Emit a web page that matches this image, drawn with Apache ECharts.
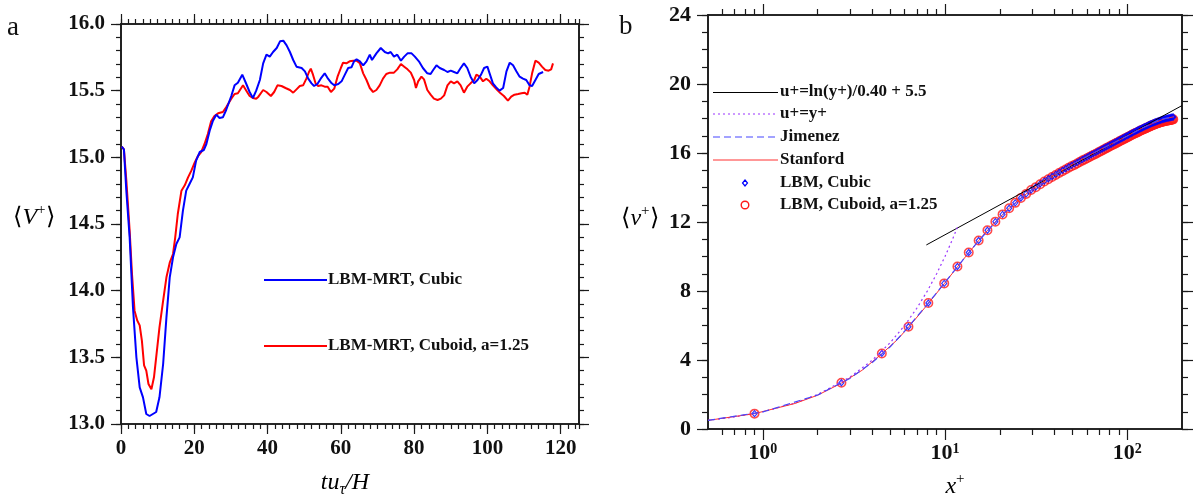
<!DOCTYPE html>
<html><head><meta charset="utf-8">
<script src="https://cdn.jsdelivr.net/npm/echarts@6/dist/echarts.min.js"></script>
<style>html,body{margin:0;padding:0;background:#fff}#c{width:1194px;height:500px}</style>
</head><body><div id="c"></div>
<script>
const FONT = '"Liberation Serif","Times New Roman",serif';

// ---- Panel a: time history of <V+> ----
const tBlue = [0.2,0.8,1.45,2.36,3.27,4.2,5.1,6.0,6.9,7.8,8.7,9.6,10.5,11.5,12.4,13.3,14.2,15.1,16.0,16.9,17.8,18.7,19.6,20.5,21.5,22.6,23.3,24.2,25.1,26.0,26.9,27.8,28.7,30.1,31.0,31.9,33.1,34.2,35.1,36.0,36.9,37.9,38.8,39.7,40.6,41.5,42.5,43.4,44.3,45.2,46.1,47.0,47.9,49.3,50.2,51.1,52.0,52.7,53.6,54.5,55.6,56.5,57.5,58.2,59.3,60.2,61.1,62.0,62.9,63.6,64.3,65.2,66.1,67.0,67.9,68.5,69.7,70.9,72.0,72.9,73.6,74.5,75.4,76.4,77.3,78.2,79.3,80.2,81.3,82.4,83.6,84.5,85.2,86.1,87.0,88.2,89.1,90.0,90.9,91.8,92.7,93.6,94.5,95.4,96.4,97.3,98.2,99.1,100.0,100.6,101.5,102.4,103.3,104.3,105.2,106.1,107.0,107.9,108.8,109.7,110.6,111.5,112.2,113.1,114.0,115.2];
const vBlue = [15.08,15.06,14.75,14.4,13.875,13.5,13.275,13.2,13.075,13.06,13.075,13.09,13.2,13.45,13.8,14.1,14.25,14.35,14.4,14.6,14.75,14.8,14.85,14.975,15.04,15.055,15.1,15.2,15.275,15.32,15.295,15.3,15.355,15.46,15.54,15.56,15.62,15.55,15.49,15.445,15.5,15.58,15.705,15.77,15.755,15.79,15.82,15.87,15.875,15.84,15.79,15.73,15.68,15.67,15.645,15.59,15.555,15.535,15.55,15.59,15.63,15.59,15.555,15.54,15.55,15.57,15.62,15.67,15.675,15.72,15.735,15.72,15.69,15.72,15.77,15.73,15.78,15.82,15.79,15.78,15.79,15.755,15.77,15.725,15.755,15.78,15.78,15.755,15.72,15.67,15.63,15.625,15.655,15.69,15.67,15.655,15.64,15.65,15.64,15.63,15.67,15.705,15.67,15.605,15.555,15.58,15.617,15.67,15.68,15.63,15.555,15.525,15.5,15.52,15.645,15.71,15.69,15.645,15.605,15.59,15.58,15.54,15.535,15.58,15.625,15.64];
const tRed = [0.2,0.8,1.45,2.36,3.0,3.7,4.45,5.1,5.7,6.3,6.9,7.5,8.3,9.0,9.6,10.5,11.5,12.4,13.3,14.2,14.8,15.5,16.5,17.4,18.3,19.2,20.1,21.0,21.9,22.8,23.7,24.6,25.5,26.5,27.8,28.7,30.1,31.0,31.9,33.3,34.2,35.1,36.0,36.9,37.5,38.8,39.7,40.9,41.8,42.7,43.8,44.9,46.1,47.0,47.9,48.8,49.7,50.6,51.3,51.8,52.4,53.1,53.8,54.7,55.6,56.4,57.3,58.2,59.1,60.0,60.6,61.5,62.4,63.4,64.3,65.2,66.1,67.0,67.9,68.8,69.7,70.6,71.5,72.4,73.4,74.5,75.4,76.4,77.3,78.2,79.1,80.0,80.5,81.1,82.0,82.7,83.6,84.5,85.4,86.4,87.3,88.2,89.1,90.0,90.9,91.8,92.7,93.6,94.5,95.4,96.4,97.0,97.9,98.8,99.7,100.6,101.5,102.7,103.6,104.5,105.6,106.5,107.4,108.4,109.3,110.2,110.9,111.5,112.2,113.1,114.0,114.9,115.8,116.7,117.4,117.9];
const vRed = [15.08,15.06,14.83,14.45,14.125,13.85,13.775,13.74,13.625,13.44,13.4,13.3,13.26,13.35,13.5,13.725,13.925,14.1,14.21,14.275,14.4,14.575,14.75,14.79,14.85,14.9,14.96,15.01,15.04,15.1,15.175,15.27,15.31,15.33,15.34,15.375,15.44,15.475,15.48,15.54,15.5,15.46,15.445,15.44,15.455,15.505,15.49,15.46,15.49,15.54,15.535,15.52,15.505,15.485,15.51,15.535,15.54,15.59,15.64,15.665,15.62,15.555,15.535,15.54,15.53,15.53,15.49,15.515,15.605,15.67,15.71,15.705,15.72,15.725,15.725,15.705,15.63,15.58,15.52,15.49,15.505,15.54,15.59,15.625,15.635,15.635,15.66,15.7,15.68,15.66,15.635,15.58,15.52,15.57,15.605,15.585,15.505,15.47,15.44,15.43,15.44,15.465,15.54,15.57,15.555,15.57,15.54,15.485,15.53,15.555,15.58,15.62,15.605,15.57,15.59,15.57,15.54,15.505,15.48,15.46,15.425,15.455,15.47,15.475,15.48,15.485,15.47,15.53,15.63,15.725,15.71,15.68,15.655,15.65,15.66,15.705];
const aXTicks = [0,20,40,60,80,100,120];

// ---- Panel b: mean velocity profile ----
const lbmX = [0.9,2.7,4.5,6.3,8.1,9.9,11.7,13.5,15.3,17.1,18.9,20.7,22.5,24.3,26.1,27.9,29.7,31.5,33.3,35.1,36.9,38.7,40.5,42.3,44.1,45.9,47.7,49.5,51.3,53.1,54.9,56.7,58.5,60.3,62.1,63.9,65.7,67.5,69.3,71.1,72.9,74.7,76.5,78.3,80.1,81.9,83.7,85.5,87.3,89.1,90.9,92.7,94.5,96.3,98.1,99.9,101.7,103.5,105.3,107.1,108.9,110.7,112.5,114.3,116.1,117.9,119.7,121.5,123.3,125.1,126.9,128.7,130.5,132.3,134.1,135.9,137.7,139.5,141.3,143.1,144.9,146.7,148.5,150.3,152.1,153.9,155.7,157.5,159.3,161.1,162.9,164.7,166.5,168.3,170.1,171.9,173.7,175.5,177.3,179.1];
const lbmCubicY = [0.89,2.68,4.38,5.93,7.30,8.44,9.42,10.23,10.93,11.52,12.02,12.44,12.80,13.11,13.39,13.63,13.85,14.03,14.21,14.37,14.51,14.64,14.76,14.88,14.99,15.09,15.19,15.28,15.37,15.45,15.54,15.62,15.70,15.77,15.84,15.91,15.98,16.04,16.11,16.17,16.23,16.29,16.35,16.40,16.46,16.51,16.57,16.62,16.67,16.72,16.77,16.82,16.86,16.91,16.96,17.00,17.04,17.09,17.13,17.17,17.21,17.25,17.29,17.32,17.36,17.40,17.43,17.46,17.50,17.53,17.56,17.59,17.62,17.65,17.68,17.70,17.73,17.75,17.78,17.80,17.82,17.84,17.86,17.88,17.90,17.92,17.94,17.95,17.97,17.98,17.99,18.01,18.02,18.03,18.04,18.05,18.06,18.07,18.08,18.09];
const lbmCuboidY = [0.89,2.68,4.38,5.93,7.30,8.44,9.42,10.23,10.93,11.52,12.02,12.44,12.80,13.11,13.39,13.63,13.85,14.02,14.19,14.35,14.48,14.61,14.72,14.84,14.94,15.04,15.14,15.23,15.31,15.39,15.48,15.56,15.63,15.70,15.77,15.84,15.90,15.96,16.03,16.09,16.15,16.21,16.27,16.32,16.38,16.43,16.48,16.53,16.58,16.63,16.68,16.73,16.77,16.82,16.86,16.90,16.94,16.99,17.03,17.07,17.11,17.15,17.18,17.21,17.25,17.29,17.32,17.35,17.38,17.41,17.44,17.47,17.50,17.53,17.56,17.58,17.61,17.63,17.66,17.68,17.70,17.72,17.74,17.76,17.78,17.79,17.81,17.82,17.84,17.85,17.86,17.87,17.88,17.89,17.90,17.91,17.92,17.93,17.94,17.95];
const stanX = [0.5,0.9,1.5,2,2.7,3.5,4.5,5.5,6.3,7.2,8.1,9.9,11.7,13.5,15.3,17.1,18.9,22.5,26.1,29.7,35,40,50,60,70,80,90,100,120,140,160,180];
const stanY = [0.5,0.89,1.48,1.96,2.66,3.40,4.36,5.20,5.90,6.62,7.28,8.42,9.40,10.22,10.92,11.51,12.01,12.79,13.38,13.85,14.36,14.74,15.34,15.79,16.16,16.47,16.74,16.99,17.43,17.74,17.98,18.10];
const jimX = [0.5,1,2,3,4,5,6,8,10,12,15,20,25,30,40,50,60,80,100,120,150,180];
const jimY = [0.5,0.99,1.97,2.93,3.87,4.76,5.67,7.23,8.50,9.55,10.80,12.28,13.22,13.88,14.76,15.34,15.79,16.47,16.99,17.43,17.93,18.10];
const linX = [0.5,0.7,1,1.5,2,3,4,5,6,7,8,9,10,11,11.8];
const linY = [0.5,0.7,1,1.5,2,3,4,5,6,7,8,9,10,11,11.8];
const logLawX = [7.9,200];
const logLawY = [10.67,18.75];
const bXMajor = [1,10,100];
const bXMinor = [0.6,0.7,0.8,0.9,2,3,4,5,6,7,8,9,20,30,40,50,60,70,80,90];

const zip = (xs, ys) => xs.map((x, i) => [x, ys[i]]);
const INK = '#1a1a1a';
const lineCfg = {show: true, onZero: false, lineStyle: {color: INK, width: 1.6}};
const tickCfg = (len, extra) => Object.assign({show: true, inside: false, length: len, lineStyle: {color: INK, width: 1.2}}, extra || {});
const labelCfg = (extra) => Object.assign({show: true, color: '#111', fontFamily: FONT, fontWeight: 'bold', fontSize: 21}, extra || {});

function ax(gridIndex, position, scale, tick, label) {
  return Object.assign({
    gridIndex, position,
    axisLine: lineCfg, axisTick: tick,
    axisLabel: label || {show: false},
    splitLine: {show: false}
  }, scale);
}

const aX = {type: 'value', min: 0, max: 125};
const aY = {type: 'value', min: 13, max: 16};
const bX = {type: 'log', logBase: 10, min: 0.5, max: 200};
const bY = {type: 'value', min: 0, max: 24};

const xAxis = [
  ax(0, 'bottom', Object.assign({interval: 20}, aX), tickCfg(10, {customValues: aXTicks}), labelCfg({margin: 14, customValues: aXTicks})),
  ax(0, 'top', Object.assign({interval: 20}, aX), tickCfg(10, {customValues: aXTicks})),
  ax(0, 'bottom', Object.assign({interval: 2}, aX), tickCfg(5)),
  ax(0, 'top', Object.assign({interval: 2}, aX), tickCfg(5)),
  ax(1, 'bottom', bX, tickCfg(11, {customValues: bXMajor}), labelCfg({margin: 13, customValues: bXMajor, fontSize: 22,
      formatter: v => '10{s|' + Math.round(Math.log10(v)) + '}',
      rich: {s: {fontFamily: FONT, fontWeight: 'bold', fontSize: 14, color: '#111', verticalAlign: 'top', lineHeight: 12}}})),
  ax(1, 'top', bX, tickCfg(11, {customValues: bXMajor})),
  ax(1, 'bottom', bX, tickCfg(6, {customValues: bXMinor})),
  ax(1, 'top', bX, tickCfg(6, {customValues: bXMinor}))
];
const yAxis = [
  ax(0, 'left', Object.assign({interval: 0.5}, aY), tickCfg(10), labelCfg({margin: 16, formatter: v => v.toFixed(1)})),
  ax(0, 'right', Object.assign({interval: 0.5}, aY), tickCfg(10)),
  ax(0, 'left', Object.assign({interval: 0.1}, aY), tickCfg(5)),
  ax(0, 'right', Object.assign({interval: 0.1}, aY), tickCfg(5)),
  ax(1, 'left', Object.assign({interval: 4}, bY), tickCfg(11), labelCfg({margin: 17, fontSize: 22})),
  ax(1, 'right', Object.assign({interval: 4}, bY), tickCfg(11)),
  ax(1, 'left', Object.assign({interval: 1}, bY), tickCfg(6)),
  ax(1, 'right', Object.assign({interval: 1}, bY), tickCfg(6))
];

const series = [
  {type: 'line', xAxisIndex: 0, yAxisIndex: 0, data: zip(tRed, vRed), showSymbol: false, symbol: 'none',
   lineStyle: {color: '#ff0000', width: 2}},
  {type: 'line', xAxisIndex: 0, yAxisIndex: 0, data: zip(tBlue, vBlue), showSymbol: false, symbol: 'none',
   lineStyle: {color: '#0000ff', width: 2}},
  {type: 'line', xAxisIndex: 4, yAxisIndex: 4, data: zip(logLawX, logLawY), symbol: 'none',
   lineStyle: {color: '#000', width: 1}},
  {type: 'line', xAxisIndex: 4, yAxisIndex: 4, data: zip(linX, linY), symbol: 'none', smooth: false,
   lineStyle: {color: '#9933ff', width: 1.2, type: [2, 3]}},
  {type: 'line', xAxisIndex: 4, yAxisIndex: 4, data: zip(stanX, stanY), symbol: 'none',
   lineStyle: {color: '#ff3030', width: 1}},
  {type: 'line', xAxisIndex: 4, yAxisIndex: 4, data: zip(jimX, jimY), symbol: 'none',
   lineStyle: {color: '#4646ff', width: 1.2, type: [7, 4]}},
  {type: 'scatter', xAxisIndex: 4, yAxisIndex: 4, data: zip(lbmX, lbmCuboidY), symbol: 'circle', symbolSize: 8.5,
   itemStyle: {color: 'rgba(0,0,0,0)', borderColor: '#ff1a1a', borderWidth: 1.5}},
  {type: 'scatter', xAxisIndex: 4, yAxisIndex: 4, data: zip(lbmX, lbmCubicY), symbol: 'diamond', symbolSize: [5, 6],
   itemStyle: {color: 'rgba(0,0,0,0)', borderColor: '#0000ff', borderWidth: 1.2}}
];

const legText = (x, y, text, size) => ({type: 'text', x, y, silent: true,
  style: {text, fill: '#111', font: 'bold ' + (size || 17) + 'px ' + FONT, align: 'left', verticalAlign: 'middle'}});
const legLine = (x1, x2, y, stroke, width, dash) => ({type: 'line', silent: true,
  shape: {x1, y1: y, x2, y2: y}, style: {stroke, lineWidth: width, lineDash: dash || null}});

const richIt = {
  n: {fontFamily: FONT, fontSize: 24, color: '#111', lineHeight: 30},
  i: {fontFamily: FONT, fontStyle: 'italic', fontSize: 24, color: '#111', lineHeight: 30},
  s: {fontFamily: FONT, fontSize: 15, color: '#111', verticalAlign: 'top', lineHeight: 14},
  b: {fontFamily: FONT, fontStyle: 'italic', fontSize: 16, color: '#111', verticalAlign: 'bottom', lineHeight: 15}
};
const richText = (x, y, text) => ({type: 'text', x, y, silent: true,
  style: {text, rich: richIt, align: 'center', verticalAlign: 'middle'}});

const graphic = [
  {type: 'text', x: 7, y: 28, style: {text: 'a', font: '27px ' + FONT, fill: '#111', verticalAlign: 'middle'}},
  {type: 'text', x: 619, y: 27, style: {text: 'b', font: '27px ' + FONT, fill: '#111', verticalAlign: 'middle'}},
  richText(34, 218, '{n|⟨}{i|V}{s|+}{n|⟩}'),
  richText(345, 483, '{i|tu}{b|τ}{i|/H}'),
  richText(640, 219, '{n|⟨}{i|v}{s|+}{n|⟩}'),
  richText(955, 487, '{i|x}{s|+}'),
  // legend a
  legLine(264, 327, 280, '#0000ff', 2),
  legText(328, 280, 'LBM-MRT, Cubic'),
  legLine(264, 327, 346, '#ff0000', 2),
  legText(328, 346, 'LBM-MRT, Cuboid, a=1.25'),
  // legend b
  legLine(713, 778, 92.5, '#000', 1),
  legText(780, 92, 'u+=ln(y+)/0.40 + 5.5'),
  legLine(713, 778, 114, '#9933ff', 1.2, [2, 3]),
  legText(780, 114, 'u+=y+'),
  legLine(713, 778, 137, '#4646ff', 1.2, [7, 4]),
  legText(780, 137, 'Jimenez'),
  legLine(713, 778, 160, '#ff3030', 1),
  legText(780, 160, 'Stanford'),
  {type: 'polygon', silent: true, shape: {points: [[745, 180], [747.5, 183], [745, 186], [742.5, 183]]},
   style: {fill: 'none', stroke: '#0000ff', lineWidth: 1.2}},
  legText(780, 183, 'LBM, Cubic'),
  {type: 'circle', silent: true, shape: {cx: 745, cy: 205, r: 3.8}, style: {fill: 'none', stroke: '#ff1a1a', lineWidth: 1.4}},
  legText(780, 205, 'LBM, Cuboid, a=1.25')
];

const chart = echarts.init(document.getElementById('c'), null, {renderer: 'canvas'});
chart.setOption({
  animation: false,
  backgroundColor: '#fff',
  grid: [
    {left: 121, top: 24, width: 458, height: 400, containLabel: false},
    {left: 708, top: 15, width: 474, height: 414, containLabel: false}
  ],
  xAxis, yAxis, series, graphic
});
</script>
</body></html>
